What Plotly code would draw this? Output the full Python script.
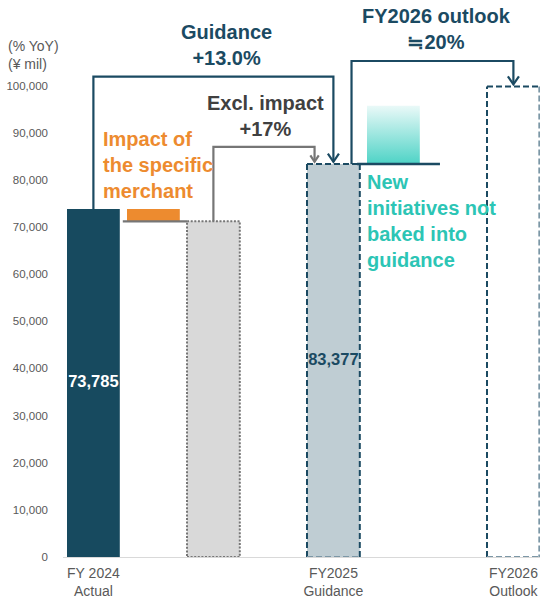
import plotly.graph_objects as go

# ---------------- data (¥ mil) ----------------
category_labels = ["FY 2024<br>Actual", "FY2025<br>Guidance", "FY2026<br>Outlook"]
category_x = [0, 2, 3.5]

step_names = ["FY2024 Actual", "Impact of the specific merchant", "FY2024 excl. impact",
              "FY2025 Guidance", "New initiatives", "FY2026 Outlook"]
step_x = [0, 0.5, 1, 2, 2.5, 3.5]
step_base = [0, 71200, 0, 0, 83377, 0]
step_top = [73785, 73785, 71200, 83377, 95700, 99800]

y_ticks = list(range(0, 100001, 10000))

guidance_growth = "+13.0%"
excl_growth = "+17%"
outlook_growth = "≒20%"

# ---------------- styling ----------------
FONT = "Liberation Sans, Arial, sans-serif"
NAVY = "#1B4A62"
DARK_BAR = "#174A5F"
ORANGE = "#ED8B2F"
TEAL_TEXT = "#2CC5B5"
GREY_LINE = "#767676"
GREY_TEXT = "#404040"
AXIS_TEXT = "#595959"

W, H = 540, 601
M_L, M_R, M_T, M_B = 63, 0, 0, 44
PLOT_W = W - M_L - M_R
PLOT_H = H - M_T - M_B
PX_ZERO, PX_100K = PLOT_H, 85.5           # pixel rows of the 0 and 100,000 ticks
Y_MAX = 100000 * PLOT_H / (PX_ZERO - PX_100K)
X_CENTER0, X_STEP = 93.4, 120.0            # pixel centre of x=0 and pixels per x unit
X_RANGE = [(M_L - X_CENTER0) / X_STEP, (W - M_R - X_CENTER0) / X_STEP]
BAR_W = 0.44
ARROW_GAP = 450


def paper_x(px):
    return (px - M_L) / PLOT_W


def paper_y(py):
    return (M_T + PLOT_H - py) / PLOT_H


a_x, m_x, e_x, g_x, n_x, o_x = step_x
a_top, m_top, e_top, g_top, n_top, o_top = step_top
m_base, n_base = step_base[1], step_base[4]

fig = go.Figure()

# FY2024 actual
fig.add_trace(go.Bar(x=[a_x], y=[a_top], width=BAR_W, marker=dict(color=DARK_BAR, line_width=0)))
# specific merchant impact
fig.add_trace(go.Bar(x=[m_x], y=[m_top - m_base], base=[m_base], width=BAR_W,
                     marker=dict(color=ORANGE, line_width=0)))
# FY2024 excluding the impact
fig.add_trace(go.Bar(x=[e_x], y=[e_top], width=BAR_W, marker=dict(color="#D9D9D9", line_width=0)))
# FY2025 guidance
fig.add_trace(go.Bar(x=[g_x], y=[g_top], width=BAR_W, marker=dict(color="#BFCDD3", line_width=0)))

# new initiatives block with a vertical gradient
nx0, nx1 = n_x - BAR_W / 2, n_x + BAR_W / 2
fig.add_trace(go.Scatter(
    x=[nx0, nx1, nx1, nx0, nx0], y=[n_base, n_base, n_top, n_top, n_base],
    mode="lines", line=dict(width=0), fill="toself",
    fillgradient=dict(type="vertical", colorscale=[[0, "#4ED3C6"], [1, "#EAF9F8"]]),
    hoverinfo="skip"))

# connector under the impact bar
fig.add_trace(go.Scatter(x=[a_x + 0.245, e_x - BAR_W / 2], y=[e_top, e_top], mode="lines",
                         line=dict(color=GREY_LINE, width=2.2), hoverinfo="skip"))
# connector under the new initiatives block
fig.add_trace(go.Scatter(x=[g_x + 0.197, n_x + 0.388], y=[n_base, n_base], mode="lines",
                         line=dict(color=NAVY, width=2.5), hoverinfo="skip"))


def bracket(x0, y0, level, x1, y1, color, dx, dy):
    tip = y1 + ARROW_GAP
    fig.add_trace(go.Scatter(x=[x0, x0, x1, x1], y=[y0, level, level, tip], mode="lines",
                             line=dict(color=color, width=2.2), hoverinfo="skip"))
    fig.add_trace(go.Scatter(x=[x1 - dx, x1, x1 + dx], y=[tip + dy, tip, tip + dy], mode="lines",
                             line=dict(color=color, width=2.2), hoverinfo="skip"))


bracket(a_x, a_top, 101900, g_x, g_top, NAVY, 0.046, 1700)
bracket(e_x, e_top, 87000, g_x - 0.157, g_top, GREY_LINE, 0.035, 1350)
bracket(g_x + 0.151, g_top, 105200, o_x, o_top, NAVY, 0.046, 1700)

# value labels
fig.add_trace(go.Scatter(x=[a_x], y=[a_top / 2], mode="text", text=[f"<b>{a_top:,}</b>"],
                         textfont=dict(color="white", size=16.5, family=FONT), hoverinfo="skip"))
fig.add_trace(go.Scatter(x=[g_x], y=[g_top / 2], mode="text", text=[f"<b>{g_top:,}</b>"],
                         textfont=dict(color=NAVY, size=16.5, family=FONT), hoverinfo="skip"))

# outlines
shapes = []
shapes.append(dict(type="rect", xref="x", yref="y", x0=e_x - BAR_W / 2, x1=e_x + BAR_W / 2,
                   y0=0, y1=e_top, line=dict(color=GREY_LINE, width=2, dash="2px,1.6px")))
gx0, gx1 = g_x - BAR_W / 2, g_x + BAR_W / 2
ox0, ox1 = o_x - BAR_W / 2, o_x + BAR_W / 2
DASH = "6px,3px"
LIGHT_EDGE = "#7C97A6"
for (x0, y0, x1, y1, c) in [
    (gx0, 0, gx0, g_top, NAVY), (gx0, g_top, gx1, g_top, NAVY),
    (gx1, g_top, gx1, 0, NAVY), (gx0, 0, gx1, 0, LIGHT_EDGE),
    (ox0, 0, ox0, o_top, NAVY), (ox0, o_top, ox1, o_top, NAVY),
    (ox1 - 0.004, o_top, ox1 - 0.004, 0, LIGHT_EDGE), (ox0, 0, ox1, 0, LIGHT_EDGE),
]:
    shapes.append(dict(type="line", xref="x", yref="y", x0=x0, y0=y0, x1=x1, y1=y1,
                       line=dict(color=c, width=2, dash=DASH)))

ann = []


def label(px, py, text, color, size=20, xanchor="center", align="center"):
    ann.append(dict(xref="paper", yref="paper", x=paper_x(px), y=paper_y(py), text=text,
                    showarrow=False, xanchor=xanchor, yanchor="middle", align=align,
                    font=dict(family=FONT, size=size, color=color)))


label(226.5, 45, f"<b>Guidance<br>{guidance_growth}</b>", NAVY)
label(265.7, 116.5, f"<b>Excl. impact<br>{excl_growth}</b>", GREY_TEXT)
label(436.2, 29, f"<b>FY2026 outlook<br>{outlook_growth}</b>", NAVY)
label(100.5, 164.7, "<b>Impact of<br>the specific<br>merchant</b>", ORANGE,
      xanchor="left", align="left")
label(364.8, 220.8, "<b>New<br>initiatives not<br>baked into<br>guidance</b>", TEAL_TEXT,
      xanchor="left", align="left")
label(6, 55.4, "(% YoY)<br>(¥ mil)", AXIS_TEXT, size=14, xanchor="left", align="left")

fig.update_layout(
    width=W, height=H,
    margin=dict(l=M_L, r=M_R, t=M_T, b=M_B, pad=0),
    paper_bgcolor="white", plot_bgcolor="white",
    barmode="overlay", showlegend=False,
    font=dict(family=FONT, color=AXIS_TEXT),
    shapes=shapes, annotations=ann,
    xaxis=dict(range=X_RANGE, tickvals=category_x, ticktext=category_labels,
               tickfont=dict(size=14, color=AXIS_TEXT, family=FONT), ticks="",
               ticklabelstandoff=3,
               showgrid=False, zeroline=False, showline=True, linecolor="#D9D9D9",
               linewidth=1, fixedrange=True),
    yaxis=dict(range=[0, Y_MAX], tickvals=y_ticks, tickformat=",", ticks="",
               tickfont=dict(size=11.5, color=AXIS_TEXT, family=FONT), ticklabelstandoff=14,
               showgrid=False, zeroline=False, showline=False, fixedrange=True),
)

fig.write_html("out.html", config={"displayModeBar": False})
